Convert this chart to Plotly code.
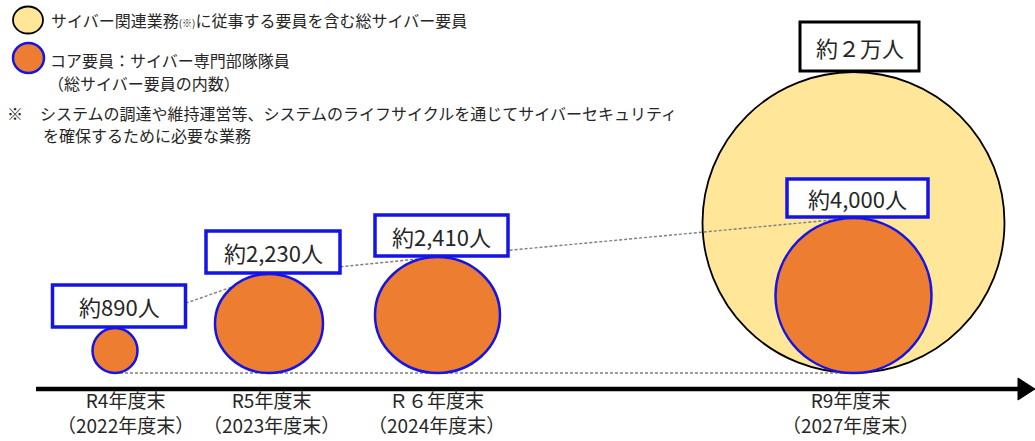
import plotly.graph_objects as go

# ---------------- data ----------------
periods = ["R4年度末", "R5年度末", "Ｒ６年度末", "R9年度末"]
fiscal_years = ["（2022年度末）", "（2023年度末）", "（2024年度末）", "（2027年度末）"]
core_staff = [890, 2230, 2410, 4000]          # コア要員
total_staff = [None, None, None, 20000]       # 総サイバー要員
total_label = "約２万人"
legend_total = "サイバー関連業務<span style='font-size:10px'>(※)</span>に従事する要員を含む総サイバー要員"
legend_core = ["コア要員：サイバー専門部隊隊員", "（総サイバー要員の内数）"]
note_mark = "※"
note_lines = ["システムの調達や維持運営等、システムのライフサイクルを通じてサイバーセキュリティ",
              "を確保するために必要な業務"]

# ---------------- layout / style (pixel canvas) ----------------
W, H = 1035, 441
FONT = "Noto Sans CJK JP"
ORANGE = "#ED7D31"
YELLOW = "#FFE699"
BLUE = "#1414E6"
GRAY = "#7F7F7F"
TEXT = "#262626"

BASE = 373                                   # bottom line of all circles
cx = [115, 269, 437.5, 853.5]                # timeline slot centres
core_r = [(22.5, 22.5), (54, 49.5), (62.5, 58), (78, 77.5)]   # schematic radii (rx, ry)
total_r = (151, 150.5)
box_w = [133, 134, 133, 141]
box_h = [43, 43, 42, 39]
total_box = (119, 50)
box_dx = 4
label_x = [125, 271, 436, 850]
label_bottom = 440
AXIS_Y = 389

fig = go.Figure()
shapes = []
annotations = []

# total staff circle (behind the trend line)
for i, v in enumerate(total_staff):
    if v is None:
        continue
    rx, ry = total_r
    shapes.append(dict(type="circle", xref="x", yref="y", layer="below",
                       x0=cx[i] - rx, x1=cx[i] + rx, y0=BASE - 2 * ry, y1=BASE,
                       fillcolor=YELLOW, line=dict(color="black", width=1.8)))

# dotted baseline and trend line through circle tops
tops = [BASE - 2 * r[1] for r in core_r]
fig.add_trace(go.Scatter(x=[cx[0], cx[-1]], y=[BASE, BASE], mode="lines",
                         line=dict(color=GRAY, width=1.4, dash="3px,2px"),
                         hoverinfo="skip", showlegend=False))
fig.add_trace(go.Scatter(x=cx, y=tops, mode="lines",
                         line=dict(color=GRAY, width=1.4, dash="3px,2px"),
                         hoverinfo="skip", showlegend=False))

# core staff circles
for i, v in enumerate(core_staff):
    rx, ry = core_r[i]
    shapes.append(dict(type="circle", xref="x", yref="y", layer="above",
                       x0=cx[i] - rx, x1=cx[i] + rx, y0=BASE - 2 * ry, y1=BASE,
                       fillcolor=ORANGE, line=dict(color=BLUE, width=2.5)))

# value boxes
for i, v in enumerate(core_staff):
    bx = cx[i] + box_dx
    top = tops[i]
    shapes.append(dict(type="rect", xref="x", yref="y", layer="above",
                       x0=bx - box_w[i] / 2, x1=bx + box_w[i] / 2,
                       y0=top - box_h[i], y1=top - 1,
                       fillcolor="white", line=dict(color=BLUE, width=3.5)))
    annotations.append(dict(x=bx, y=top - box_h[i] / 2 - 0.5, xref="x", yref="y",
                            text=f"約{v:,}人", showarrow=False,
                            font=dict(family=FONT, size=22, color=TEXT)))
for i, v in enumerate(total_staff):
    if v is None:
        continue
    bx = cx[i] + box_dx + 2
    top = BASE - 2 * total_r[1]
    w, h = total_box
    shapes.append(dict(type="rect", xref="x", yref="y", layer="above",
                       x0=bx - w / 2, x1=bx + w / 2, y0=top - h, y1=top - 1,
                       fillcolor="white", line=dict(color="black", width=3)))
    annotations.append(dict(x=bx, y=top - h / 2 - 0.5, xref="x", yref="y",
                            text=total_label, showarrow=False,
                            font=dict(family=FONT, size=22, color=TEXT)))

# time axis with arrow
shapes.append(dict(type="line", xref="x", yref="y", layer="above",
                   x0=36, x1=1021, y0=AXIS_Y, y1=AXIS_Y,
                   line=dict(color="black", width=4.5)))
shapes.append(dict(type="path", xref="x", yref="y", layer="above",
                   path=f"M 1018 {AXIS_Y - 11} L 1035 {AXIS_Y} L 1018 {AXIS_Y + 11} Z",
                   fillcolor="black", line=dict(color="black", width=1)))

# period labels (two lines each)
for i in range(len(periods)):
    annotations.append(dict(x=label_x[i], y=label_bottom, xref="x", yref="y",
                            xanchor="center", yanchor="bottom", align="center",
                            text=periods[i] + "<br>" + fiscal_years[i], showarrow=False,
                            font=dict(family=FONT, size=19, color=TEXT)))

# legend
shapes.append(dict(type="circle", xref="x", yref="y", layer="above",
                   x0=13, x1=43, y0=6.5, y1=33.5,
                   fillcolor=YELLOW, line=dict(color="black", width=1.8)))
shapes.append(dict(type="circle", xref="x", yref="y", layer="above",
                   x0=13, x1=44, y0=43, y1=73,
                   fillcolor=ORANGE, line=dict(color=BLUE, width=2.5)))
legend_texts = [
    (49, 20, legend_total),
    (48, 60, legend_core[0]),
    (46, 83, legend_core[1]),
    (5, 113, note_mark),
    (38, 113, note_lines[0]),
    (41, 135, note_lines[1]),
]
for x, y, t in legend_texts:
    annotations.append(dict(x=x, y=y, xref="x", yref="y", text=t, showarrow=False,
                            xanchor="left", yanchor="middle",
                            font=dict(family=FONT, size=16, color=TEXT)))

fig.update_layout(
    width=W, height=H,
    margin=dict(l=0, r=0, t=0, b=0),
    paper_bgcolor="white", plot_bgcolor="white",
    xaxis=dict(range=[0, W], visible=False, fixedrange=True),
    yaxis=dict(range=[H, 0], visible=False, fixedrange=True),
    shapes=shapes, annotations=annotations,
    showlegend=False,
)

fig.write_html("out.html", config={"displayModeBar": False},
               post_script="document.body.style.margin='0';document.body.style.overflow='hidden';")
